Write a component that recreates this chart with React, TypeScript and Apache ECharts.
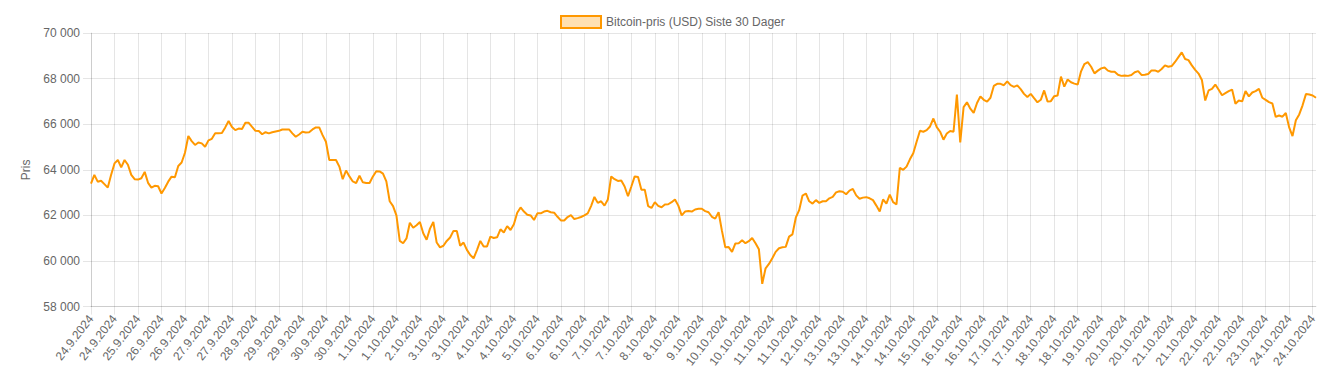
import React, { useEffect, useRef } from "react";
import * as echarts from "echarts";

const TICK_LABELS = [
  "24.9.2024", "24.9.2024", "25.9.2024", "26.9.2024", "26.9.2024", "27.9.2024", "27.9.2024",
  "28.9.2024", "29.9.2024", "29.9.2024", "30.9.2024", "30.9.2024", "1.10.2024", "1.10.2024",
  "2.10.2024", "3.10.2024", "3.10.2024", "4.10.2024", "4.10.2024", "5.10.2024", "6.10.2024",
  "6.10.2024", "7.10.2024", "7.10.2024", "8.10.2024", "8.10.2024", "9.10.2024", "10.10.2024",
  "10.10.2024", "11.10.2024", "11.10.2024", "12.10.2024", "13.10.2024", "13.10.2024", "14.10.2024",
  "14.10.2024", "15.10.2024", "16.10.2024", "16.10.2024", "17.10.2024", "17.10.2024", "18.10.2024",
  "18.10.2024", "19.10.2024", "20.10.2024", "20.10.2024", "21.10.2024", "21.10.2024", "22.10.2024",
  "22.10.2024", "23.10.2024", "24.10.2024", "24.10.2024",
];

const POINTS_PER_TICK = 7;

const PRICES = [
  63390, 63780, 63480, 63520, 63370, 63220, 63780, 64280, 64430, 64110,
  64430, 64220, 63780, 63590, 63570, 63630, 63910, 63430, 63220, 63300,
  63280, 62960, 63200, 63480, 63700, 63670, 64170, 64320, 64750, 65480,
  65260, 65090, 65200, 65160, 65010, 65290, 65360, 65600, 65600, 65610,
  65860, 66140, 65880, 65740, 65810, 65790, 66060, 66060, 65880, 65710,
  65700, 65560, 65650, 65600, 65650, 65680, 65710, 65770, 65770, 65770,
  65600, 65450, 65550, 65670, 65640, 65650, 65770, 65860, 65860, 65520,
  65230, 64430, 64430, 64430, 64140, 63590, 63970, 63710, 63490, 63420,
  63740, 63450, 63420, 63420, 63710, 63940, 63930, 63830, 63490, 62620,
  62410, 62000, 60880, 60780, 60990, 61680, 61460, 61570, 61710, 61220,
  60930, 61420, 61710, 60810, 60600, 60670, 60880, 61030, 61320, 61320,
  60670, 60810, 60490, 60260, 60120, 60480, 60880, 60640, 60640, 61070,
  61010, 61040, 61390, 61250, 61530, 61360, 61610, 62120, 62350, 62170,
  62030, 62000, 61800, 62090, 62090, 62170, 62200, 62140, 62120, 61940,
  61780, 61780, 61930, 62010, 61840, 61880, 61930, 62000, 62090, 62410,
  62810, 62550, 62620, 62430, 62700, 63710, 63590, 63510, 63530, 63270,
  62840, 63270, 63710, 63680, 63130, 63130, 62410, 62330, 62580, 62420,
  62360, 62480, 62490, 62580, 62700, 62430, 62000, 62170, 62190, 62170,
  62260, 62290, 62290, 62190, 62140, 61940, 61860, 62140, 61320, 60600,
  60610, 60400, 60770, 60780, 60910, 60780, 60870, 61010, 60780, 60520,
  59000, 59680, 59870, 60120, 60400, 60560, 60600, 60620, 61070, 61170,
  61900, 62230, 62870, 62960, 62620, 62520, 62670, 62550, 62620, 62620,
  62750, 62810, 63010, 63060, 63040, 62930, 63090, 63160, 62880, 62730,
  62780, 62800, 62750, 62670, 62430, 62170, 62700, 62520, 62910, 62580,
  62480, 64090, 64000, 64140, 64460, 64730, 65230, 65710, 65670, 65740,
  65900, 66250, 65870, 65670, 65320, 65590, 65700, 65670, 67300, 65200,
  66750, 66960, 66680, 66500, 66930, 67220, 67070, 66990, 67160, 67680,
  67770, 67770, 67710, 67880, 67710, 67640, 67700, 67540, 67330, 67190,
  67330, 67140, 66960, 67070, 67480, 67000, 67010, 67230, 67260, 68090,
  67650, 67960, 67840, 67780, 67740, 68320, 68640, 68720, 68520, 68230,
  68350, 68450, 68490, 68350, 68300, 68300, 68170, 68120, 68140, 68120,
  68160, 68280, 68330, 68160, 68170, 68200, 68360, 68360, 68300, 68420,
  68580, 68520, 68550, 68730, 68940, 69150, 68860, 68810, 68580, 68380,
  68220, 67940, 67040, 67480, 67550, 67740, 67510, 67270, 67360, 67450,
  67520, 66900, 67040, 67000, 67450, 67220, 67390, 67450, 67550, 67160,
  67070, 66970, 66910, 66320, 66380, 66330, 66490, 65860, 65480, 66170,
  66430, 66830, 67320, 67300, 67260, 67160,
];

const Y_MIN = 58000;
const Y_MAX = 70000;
const Y_STEP = 2000;

const SERIES_NAME = "Bitcoin-pris (USD) Siste 30 Dager";
const Y_TITLE = "Pris";

const CATEGORIES = PRICES.map(
  (_, i) => TICK_LABELS[Math.min(TICK_LABELS.length - 1, Math.floor(i / POINTS_PER_TICK))]
);

const FONT = "Arial, 'Liberation Sans', Helvetica, sans-serif";
const GRID_COLOR = "rgba(0,0,0,0.1)";
const TEXT_COLOR = "#666";
const LINE_COLOR = "#FF9800";

function formatThousands(v: number): string {
  const s = String(Math.round(v));
  return s.replace(/\B(?=(\d{3})+(?!\d))/g, "\u00a0");
}

export default function App() {
  const ref = useRef<HTMLDivElement>(null);

  useEffect(() => {
    if (!ref.current) return;
    const chart = echarts.init(ref.current, undefined, { renderer: "svg" });
    chart.setOption({
      animation: false,
      textStyle: { fontFamily: FONT },
      legend: {
        top: 2,
        left: 547,
        icon: "rect",
        itemWidth: 40,
        itemHeight: 12,
        itemGap: 10,
        textStyle: { color: TEXT_COLOR, fontSize: 12, fontFamily: FONT },
        itemStyle: {
          color: "rgba(255,152,0,0.3)",
          borderColor: LINE_COLOR,
          borderWidth: 2,
        },
        data: [SERIES_NAME],
      },
      grid: { left: 83, right: 20, top: 25, bottom: 61, containLabel: false },
      xAxis: {
        type: "category",
        data: CATEGORIES,
        boundaryGap: false,
        axisLine: { show: true, lineStyle: { color: GRID_COLOR } },
        axisTick: {
          show: true,
          interval: POINTS_PER_TICK - 1,
          length: 8,
          lineStyle: { color: GRID_COLOR },
        },
        splitLine: {
          show: true,
          interval: POINTS_PER_TICK - 1,
          lineStyle: { color: GRID_COLOR },
        },
        axisLabel: {
          interval: POINTS_PER_TICK - 1,
          rotate: 52,
          margin: 10,
          color: TEXT_COLOR,
          fontSize: 12,
          fontFamily: FONT,
        },
      },
      yAxis: {
        type: "value",
        min: Y_MIN,
        max: Y_MAX,
        interval: Y_STEP,
        name: Y_TITLE,
        nameLocation: "middle",
        nameGap: 58,
        nameTextStyle: { color: TEXT_COLOR, fontSize: 12, fontFamily: FONT },
        axisLine: { show: true, lineStyle: { color: GRID_COLOR } },
        axisTick: { show: true, length: 8, lineStyle: { color: GRID_COLOR } },
        splitLine: { show: true, lineStyle: { color: GRID_COLOR } },
        axisLabel: {
          margin: 11,
          color: TEXT_COLOR,
          fontSize: 12,
          fontFamily: FONT,
          formatter: (v: number) => formatThousands(v),
        },
      },
      series: [
        {
          name: SERIES_NAME,
          type: "line",
          data: PRICES,
          showSymbol: false,
          symbol: "none",
          lineStyle: { color: LINE_COLOR, width: 2 },
          itemStyle: { color: LINE_COLOR },
        },
      ],
    });
    return () => chart.dispose();
  }, []);

  return <div ref={ref} style={{ width: 1328, height: 362 }} />;
}
